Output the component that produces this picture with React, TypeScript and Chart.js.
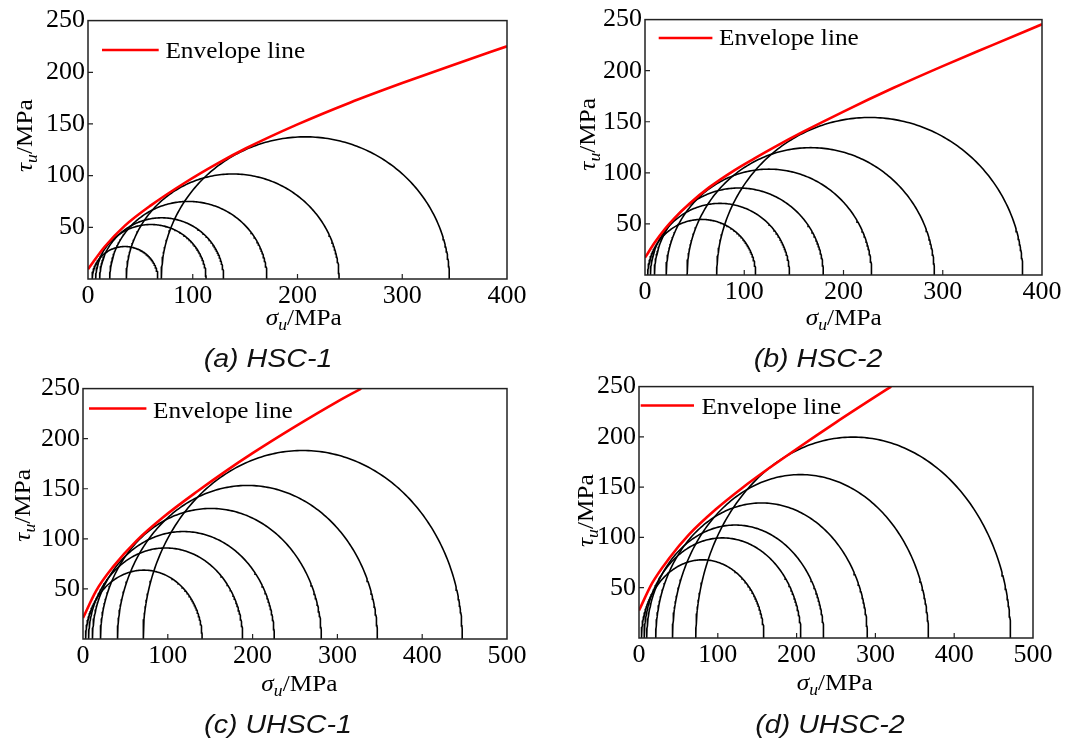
import React, { useEffect, useRef } from 'react';
import { Chart, registerables } from 'chart.js';

Chart.register(...registerables);

const SERIF = "'Liberation Serif', 'Times New Roman', serif";
const SANS = "'Liberation Sans', Arial, sans-serif";

// ---------- data ----------
// (a) HSC-1 : Mohr circles (minor / major principal stress, MPa)
const hsc1Sigma3 = [3.85, 7.3, 11.1, 20.7, 36.5, 69.9];
const hsc1Sigma1 = [66.7, 112.7, 129.5, 170.8, 239.7, 345];
const hsc1EnvSigma = [0, 15.9, 35, 60.4, 92.1, 123.8, 150.9, 200, 250, 300, 350, 400];
const hsc1EnvTau = [9.4, 31.2, 51.4, 71.5, 92.9, 111.9, 126.5, 149.6, 170.6, 189.6, 207.6, 225.1];

// (b) HSC-2
const hsc2Sigma3 = [2.7, 5.4, 9.4, 21.2, 42.3, 72.2];
const hsc2Sigma1 = [111.5, 145.6, 179.7, 228.4, 291.6, 380.6];
const hsc2EnvSigma = [0, 10, 20, 30, 45, 65, 90, 110, 130, 160, 200, 250, 300, 350, 400];
const hsc2EnvTau = [17, 32, 45, 56, 70, 86, 102.5, 114, 125, 140.5, 160, 183, 204.5, 225, 245.4];

// (c) UHSC-1
const uhsc1Sigma3 = [3, 6.5, 11, 20.5, 40.6, 70.9];
const uhsc1Sigma1 = [140.5, 188.3, 225.6, 281.1, 347.2, 447.3];
const uhsc1EnvSigma = [0, 15.8, 35.4, 63, 94.5, 135.8, 168.4, 200, 250, 300, 328];
const uhsc1EnvTau = [21, 48.6, 72, 98, 121.5, 148, 167.6, 185.5, 212, 237, 250];

// (d) UHSC-2
const uhsc2Sigma3 = [3, 6.4, 9.7, 21.2, 42.4, 72];
const uhsc2Sigma1 = [158.5, 205.5, 234.4, 289.8, 367.4, 471.6];
const uhsc2EnvSigma = [0, 17, 38.1, 63.6, 97.5, 131.4, 165.3, 200, 250, 300, 320];
const uhsc2EnvTau = [27.4, 55, 79, 103, 128, 149.5, 169, 188, 214.5, 240, 250];

const yTicks = [50, 100, 150, 200, 250];
const legendLabel = 'Envelope line';

// ---------- layout (page pixels) ----------
const PL = 80;
const PR = 30;
const PT = 18;
const PB = 72;
const TEXT_STRETCH = 1.1;

type PanelSpec = {
  caption: string;
  rect: { l: number; t: number; r: number; b: number };
  xMax: number;
  s3: number[];
  s1: number[];
  envX: number[];
  envY: number[];
  legend: { x1: number; x2: number; y: number; tx: number; ty: number };
  xTitle: { dx: number; dy: number };
  yTitle: { dx: number; dy: number };
  cap: { cx: number; by: number };
};

const panels: PanelSpec[] = [
  {
    caption: '(a) HSC-1',
    rect: { l: 88, t: 20, r: 507, b: 279 },
    xMax: 400,
    s3: hsc1Sigma3, s1: hsc1Sigma1, envX: hsc1EnvSigma, envY: hsc1EnvTau,
    legend: { x1: 14, x2: 70.7, y: 29.3, tx: 77.4, ty: 37.3 },
    xTitle: { dx: 215.7, dy: 46.3 },
    yTitle: { dx: -56.3, dy: 115 },
    cap: { cx: 268, by: 366.7 },
  },
  {
    caption: '(b) HSC-2',
    rect: { l: 645, t: 19, r: 1042, b: 275 },
    xMax: 400,
    s3: hsc2Sigma3, s1: hsc2Sigma1, envX: hsc2EnvSigma, envY: hsc2EnvTau,
    legend: { x1: 13.7, x2: 67.4, y: 18.4, tx: 74, ty: 25.7 },
    xTitle: { dx: 198.7, dy: 49.7 },
    yTitle: { dx: -50.3, dy: 114.7 },
    cap: { cx: 818, by: 366.7 },
  },
  {
    caption: '(c) UHSC-1',
    rect: { l: 83, t: 388, r: 507, b: 639 },
    xMax: 500,
    s3: uhsc1Sigma3, s1: uhsc1Sigma1, envX: uhsc1EnvSigma, envY: uhsc1EnvTau,
    legend: { x1: 6, x2: 63.4, y: 20, tx: 70, ty: 29.4 },
    xTitle: { dx: 216.4, dy: 52 },
    yTitle: { dx: -52.6, dy: 116.7 },
    cap: { cx: 278, by: 732.7 },
  },
  {
    caption: '(d) UHSC-2',
    rect: { l: 639, t: 386, r: 1033, b: 638 },
    xMax: 500,
    s3: uhsc2Sigma3, s1: uhsc2Sigma1, envX: uhsc2EnvSigma, envY: uhsc2EnvTau,
    legend: { x1: 1.7, x2: 55, y: 19, tx: 62.4, ty: 27.3 },
    xTitle: { dx: 195.7, dy: 52.4 },
    yTitle: { dx: -46, dy: 124 },
    cap: { cx: 830, by: 732.7 },
  },
];

function semicircle(s3: number, s1: number) {
  const c = (s1 + s3) / 2;
  const r = (s1 - s3) / 2;
  const pts: { x: number; y: number }[] = [];
  const n = 180;
  for (let i = 0; i <= n; i++) {
    const th = (Math.PI * i) / n;
    pts.push({ x: c + r * Math.cos(th), y: r * Math.sin(th) });
  }
  return pts;
}

function drawTitle(ctx: CanvasRenderingContext2D, x: number, y: number, sym: string, rotate: boolean) {
  const parts = [
    { t: sym, f: `italic 23px ${SERIF}`, dy: 0 },
    { t: 'u', f: `italic 16px ${SERIF}`, dy: 5 },
    { t: '/MPa', f: `23px ${SERIF}`, dy: 0 },
  ];
  ctx.save();
  ctx.translate(x, y);
  if (rotate) ctx.rotate(-Math.PI / 2);
  ctx.scale(TEXT_STRETCH, 1);
  ctx.textAlign = 'left';
  ctx.textBaseline = 'alphabetic';
  ctx.fillStyle = '#000';
  let total = 0;
  const widths = parts.map((p) => {
    ctx.font = p.f;
    const w = ctx.measureText(p.t).width;
    total += w;
    return w;
  });
  let cx = -total / 2;
  parts.forEach((p, i) => {
    ctx.font = p.f;
    ctx.fillText(p.t, cx, p.dy);
    cx += widths[i];
  });
  ctx.restore();
}

function makeDecor(spec: PanelSpec) {
  return {
    id: 'panelDecor',
    afterDatasetsDraw(chart: any) {
      const ctx: CanvasRenderingContext2D = chart.ctx;
      const { left: l, top: t, right: r, bottom: b } = chart.chartArea;
      const xs = chart.scales.x;
      const ys = chart.scales.y;
      ctx.save();
      // frame
      ctx.strokeStyle = '#222';
      ctx.lineWidth = 1.5;
      ctx.strokeRect(l, t, r - l, b - t);
      // inward tick marks
      ctx.lineWidth = 1.2;
      ctx.beginPath();
      for (let v = 100; v < spec.xMax; v += 100) {
        const px = xs.getPixelForValue(v);
        ctx.moveTo(px, b);
        ctx.lineTo(px, b - 5);
      }
      yTicks.forEach((v) => {
        if (v >= 250) return;
        const py = ys.getPixelForValue(v);
        ctx.moveTo(l, py);
        ctx.lineTo(l + 5, py);
      });
      ctx.stroke();
      // legend
      ctx.strokeStyle = '#ff0000';
      ctx.lineWidth = 2.5;
      ctx.beginPath();
      ctx.moveTo(l + spec.legend.x1, t + spec.legend.y);
      ctx.lineTo(l + spec.legend.x2, t + spec.legend.y);
      ctx.stroke();
      ctx.translate(l + spec.legend.tx, t + spec.legend.ty);
      ctx.scale(TEXT_STRETCH, 1);
      ctx.fillStyle = '#000';
      ctx.font = `23px ${SERIF}`;
      ctx.textAlign = 'left';
      ctx.textBaseline = 'alphabetic';
      ctx.fillText(legendLabel, 0, 0);
      ctx.restore();
      // axis titles
      drawTitle(ctx, l + spec.xTitle.dx, b + spec.xTitle.dy, 'σ', false);
      drawTitle(ctx, l + spec.yTitle.dx, t + spec.yTitle.dy, 'τ', true);
    },
  };
}

function Panel({ spec }: { spec: PanelSpec }) {
  const ref = useRef<HTMLCanvasElement>(null);
  const { l, t, r, b } = spec.rect;
  const w = r - l + PL + PR;
  const h = b - t + PT + PB;

  useEffect(() => {
    if (!ref.current) return;
    const circleSets = spec.s3.map((s3, i) => ({
      label: `circle ${i + 1}`,
      data: semicircle(s3, spec.s1[i]),
      showLine: true,
      borderColor: '#000',
      borderWidth: 1.6,
      pointRadius: 0,
      tension: 0,
      fill: false,
    }));
    const envelope = {
      label: legendLabel,
      data: spec.envX.map((x, i) => ({ x, y: spec.envY[i] })),
      showLine: true,
      borderColor: '#ff0000',
      borderWidth: 2.6,
      pointRadius: 0,
      cubicInterpolationMode: 'monotone' as const,
      fill: false,
    };
    const chart = new Chart(ref.current, {
      type: 'scatter',
      data: { datasets: [envelope, ...circleSets] as any },
      options: {
        responsive: false,
        animation: false,
        devicePixelRatio: 1,
        layout: { padding: { left: 0, right: PR, top: PT, bottom: 0 } },
        plugins: { legend: { display: false }, tooltip: { enabled: false } },
        elements: { point: { radius: 0 } },
        scales: {
          x: {
            type: 'linear',
            min: 0,
            max: spec.xMax,
            grid: { display: false, drawTicks: false },
            border: { display: false },
            ticks: {
              stepSize: 100,
              autoSkip: false,
              maxRotation: 0,
              padding: 2,
              color: '#000',
              font: { family: SERIF, size: 26 },
            },
            afterFit: (s: any) => {
              s.height = PB;
            },
          },
          y: {
            type: 'linear',
            min: 0,
            max: 250,
            grid: { display: false, drawTicks: false },
            border: { display: false },
            ticks: {
              stepSize: 50,
              padding: 3,
              color: '#000',
              font: { family: SERIF, size: 26 },
              callback: (v: any) => (v === 0 ? '' : String(v)),
            },
            afterFit: (s: any) => {
              s.width = PL;
            },
          },
        },
      },
      plugins: [makeDecor(spec)],
    });
    return () => chart.destroy();
  }, []);

  return (
    <canvas
      ref={ref}
      width={w}
      height={h}
      style={{ position: 'absolute', left: l - PL, top: t - PT, width: w, height: h }}
    />
  );
}

export default function App() {
  return (
    <div
      style={{
        position: 'fixed',
        left: 0,
        top: 0,
        width: 1074,
        height: 740,
        background: '#fff',
        overflow: 'hidden',
      }}
    >
      {panels.map((p) => (
        <Panel key={p.caption} spec={p} />
      ))}
      {panels.map((p) => (
        <div
          key={'cap' + p.caption}
          style={{
            position: 'absolute',
            left: p.cap.cx,
            top: p.cap.by - 22,
            transform: 'translateX(-50%) scaleX(1.1)',
            fontFamily: SANS,
            fontStyle: 'italic',
            fontSize: 26,
            lineHeight: '26px',
            whiteSpace: 'nowrap',
            color: '#111',
          }}
        >
          {p.caption}
        </div>
      ))}
    </div>
  );
}
